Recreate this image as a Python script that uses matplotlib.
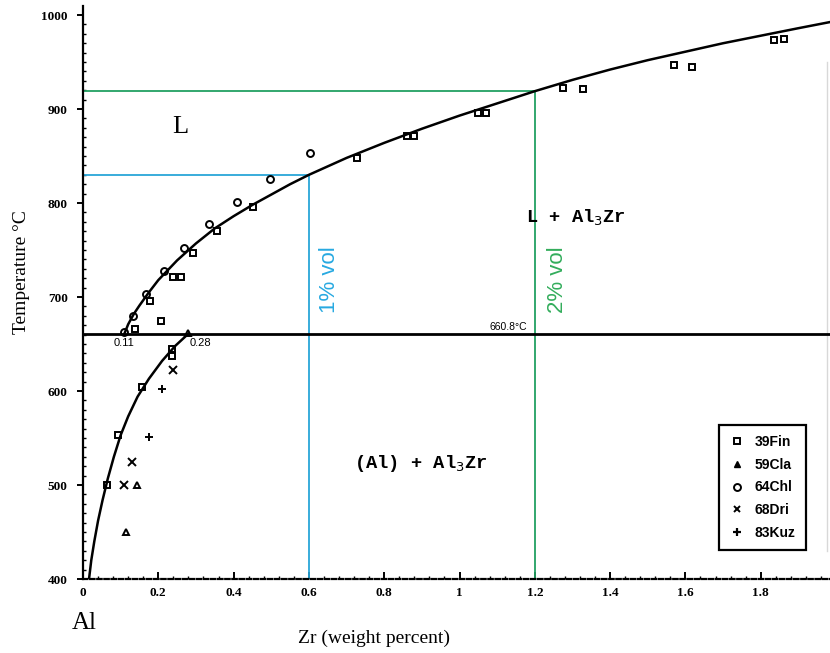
import matplotlib
matplotlib.use('Agg')
import matplotlib.pyplot as plt
from matplotlib.lines import Line2D

# ---- data ----
liq_x = [0.11, 0.12, 0.135, 0.15, 0.175, 0.2, 0.25, 0.3, 0.35, 0.4, 0.45, 0.5, 0.55, 0.6,
         0.7, 0.8, 0.9, 1.0, 1.1, 1.2, 1.3, 1.4, 1.5, 1.6, 1.7, 1.8, 1.9, 1.99]
liq_T = [661, 671, 682, 691, 705, 718, 739, 757, 773, 786, 798, 809, 820, 830,
         848, 864, 879, 893, 906, 919, 931, 942, 952, 961, 970, 978, 986, 993]

sol_x = [0.016, 0.022, 0.03, 0.04, 0.052, 0.066, 0.082, 0.1, 0.12, 0.145, 0.175, 0.21, 0.245, 0.28]
sol_T = [400, 420, 440, 462, 484, 507, 530, 553, 573, 594, 613, 632, 648, 661]

eut_T = 660.8
x_max = 1.984

fin_x = [0.138, 0.178, 0.207, 0.239, 0.26, 0.292, 0.356, 0.452, 0.728, 0.86, 0.88,
         1.05, 1.07, 1.275, 1.328, 1.57, 1.617, 1.835, 1.862,
         0.063, 0.094, 0.156, 0.236, 0.236]
fin_T = [666, 696, 675, 721, 721, 747, 770, 796, 848, 871, 871,
         896, 896, 922, 921, 947, 945, 973, 975,
         500, 553, 604, 645, 637]

cla_x = [0.143, 0.114, 0.28]
cla_T = [500, 450, 662]

chl_x = [0.11, 0.133, 0.167, 0.215, 0.268, 0.335, 0.409, 0.497, 0.603]
chl_T = [663, 680, 703, 728, 752, 778, 801, 826, 853]

dri_x = [0.109, 0.13, 0.24]
dri_T = [500, 524, 622]

kuz_x = [0.21, 0.175]
kuz_T = [602, 551]

vol1_x, vol1_T = 0.6, 830
vol2_x, vol2_T = 1.2, 919

x_ticks = [0, 0.2, 0.4, 0.6, 0.8, 1.0, 1.2, 1.4, 1.6, 1.8]
x_tick_labels = ['0', '0.2', '0.4', '0.6', '0.8', '1', '1.2', '1.4', '1.6', '1.8']
y_ticks = [400, 500, 600, 700, 800, 900, 1000]
y_tick_labels = ['400', '500', '600', '700', '800', '900', '1000']

legend_labels = ['39Fin', '59Cla', '64Chl', '68Dri', '83Kuz']

# ---- figure ----
fig = plt.figure(figsize=(8.3, 6.53), dpi=100)
ax = fig.add_axes([0.1, 74 / 653, 0.9, 579 / 653])
ax.set_xlim(0, x_max)
ax.set_ylim(400, 1016)

blue = '#2aa6d8'
green = '#22a062'

# guide lines
ax.plot([0, vol1_x], [vol1_T, vol1_T], color=blue, lw=1.3, zorder=2)
ax.plot([vol1_x, vol1_x], [400, vol1_T], color=blue, lw=1.3, zorder=2)
ax.plot([0, vol2_x], [vol2_T, vol2_T], color=green, lw=1.3, zorder=2)
ax.plot([vol2_x, vol2_x], [400, vol2_T], color=green, lw=1.3, zorder=2)

# phase boundaries
ax.plot(liq_x, liq_T, color='black', lw=1.8, zorder=3, solid_joinstyle='round')
ax.plot(sol_x, sol_T, color='black', lw=1.8, zorder=3, solid_joinstyle='round')
ax.plot([0, x_max], [eut_T, eut_T], color='black', lw=2.0, zorder=3)

# faint right edge line
ax.plot([1.975, 1.975], [430, 950], color='#d8d8d8', lw=1.0, zorder=1)

mk = dict(linestyle='none', color='black', markerfacecolor='none', markeredgewidth=1.4, zorder=4)
ax.plot(fin_x, fin_T, marker='s', markersize=5.0, **mk)
ax.plot(cla_x, cla_T, marker='^', markersize=5.0, **mk)
ax.plot(chl_x, chl_T, marker='o', markersize=5.0, **mk)
ax.plot(dri_x, dri_T, marker='x', markersize=5.5, **mk)
ax.plot(kuz_x, kuz_T, marker='+', markersize=5.5, **mk)

# texts
ax.text(0.258, 881, 'L', family='Liberation Serif', fontsize=19, ha='center', va='center')
ax.text(1.31, 784, 'L + Al$_3$Zr', family='Liberation Mono', fontweight='bold', fontsize=13.5,
        ha='center', va='center')
ax.text(0.898, 523, '(Al) + Al$_3$Zr', family='Liberation Mono', fontweight='bold', fontsize=13.5,
        ha='center', va='center')
ax.text(1.179, 668, '660.8°C', family='Liberation Sans', fontsize=7.5, ha='right', va='center')
ax.text(0.11, 651, '0.11', family='Liberation Sans', fontsize=8, ha='center', va='center')
ax.text(0.311, 651, '0.28', family='Liberation Sans', fontsize=8, ha='center', va='center')
ax.text(0.656, 718, '1% vol', family='Liberation Sans', fontsize=16, color='#27a9e1',
        rotation=90, ha='center', va='center')
ax.text(1.26, 718, '2% vol', family='Liberation Sans', fontsize=16, color='#33ad5c',
        rotation=90, ha='center', va='center')

# axes styling
for s in ['top', 'right']:
    ax.spines[s].set_visible(False)
ax.spines['left'].set_linewidth(1.6)
ax.spines['bottom'].set_linewidth(1.6)
ax.spines['bottom'].set_linestyle((0, (2.0, 1.2)))
ax.spines['left'].set_bounds(400, 1010)

ax.set_xticks(x_ticks)
ax.set_xticklabels(x_tick_labels, family='Liberation Serif', fontsize=9.5, fontweight='bold')
ax.set_yticks(y_ticks)
ax.set_yticklabels(y_tick_labels, family='Liberation Serif', fontsize=9.5, fontweight='bold')
ax.set_xticks([i * 0.04 for i in range(1, 50)], minor=True)
ax.set_yticks(list(range(410, 1010, 10)), minor=True)
ax.tick_params(axis='x', which='major', direction='in', length=5, width=1.4, pad=6)
ax.tick_params(axis='y', which='major', direction='out', length=4, width=1.4, pad=7)
ax.tick_params(axis='both', which='minor', direction='in', length=2, width=1.0)

ax.set_ylabel('Temperature °C', family='Liberation Serif', fontsize=14)
ax.yaxis.set_label_coords(-0.071, 0.53)
ax.set_xlabel('Zr (weight percent)', family='Liberation Serif', fontsize=14)
ax.xaxis.set_label_coords((374 - 83) / 747, -0.088)
fig.text(84 / 830, 1 - 623 / 653, 'Al', family='Liberation Serif', fontsize=18,
         ha='center', va='center')

# legend
handles = [
    Line2D([], [], marker='s', linestyle='none', color='black', markerfacecolor='none', markersize=5, markeredgewidth=1.4),
    Line2D([], [], marker='^', linestyle='none', color='black', markerfacecolor='black', markersize=5),
    Line2D([], [], marker='o', linestyle='none', color='black', markerfacecolor='none', markersize=5, markeredgewidth=1.4),
    Line2D([], [], marker='x', linestyle='none', color='black', markersize=5, markeredgewidth=1.4),
    Line2D([], [], marker='+', linestyle='none', color='black', markersize=6, markeredgewidth=1.6),
]
leg = ax.legend(handles, legend_labels, loc='lower right', bbox_to_anchor=(0.968, 0.05),
                borderaxespad=0,
                prop={'family': 'Liberation Sans', 'weight': 'bold', 'size': 10},
                frameon=True, fancybox=False, edgecolor='black', framealpha=1,
                handlelength=1.0, handletextpad=0.8, labelspacing=0.62, borderpad=0.75)
leg.get_frame().set_linewidth(1.6)

fig.savefig('out.png', dpi=100, facecolor='white')
